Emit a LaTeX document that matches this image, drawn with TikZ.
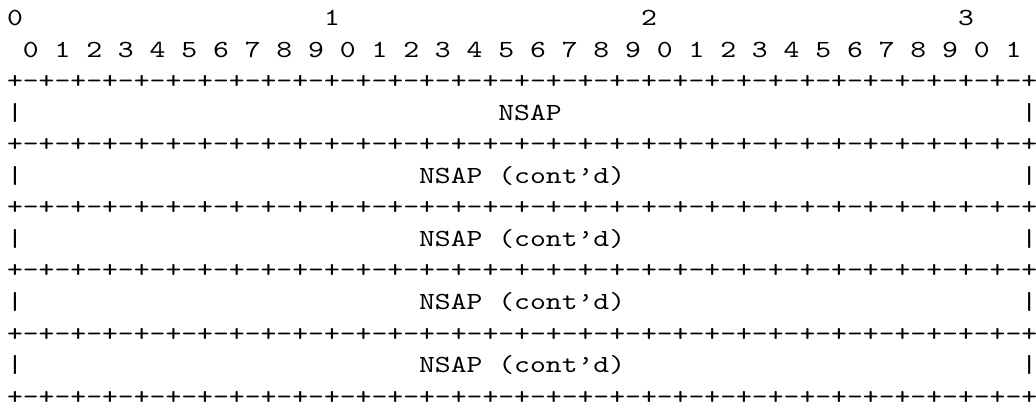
\documentclass[tikz,border=0pt]{standalone}
\usepackage{fontspec}
\setmonofont{lmmono10-regular.otf}[FakeStretch=1.2273]
\tikzset{>=latex}

\begin{document}
\begin{tikzpicture}[x=0.5pt,y=0.5pt,
    txt/.style={inner sep=0pt, anchor=base west, font=\ttfamily\fontsize{12.3}{16}\selectfont}]
      % page size of the reference, in px
      \useasboundingbox (0,0) rectangle (1036,-407);
      % column c sits at 6.6 + c*15.85, row r has its baseline at 25.9 + (r-1)*31.51
      \foreach \c/\t in {0/0, 20/1, 40/2, 60/3}
        \node[txt] (top\t) at ({6.6+\c*15.85},-25.9) {\t};
      \foreach \k [evaluate=\k as \d using {int(mod(\k,10))}] in {0,...,31}
        \node[txt] (bit\k) at ({6.6+(2*\k+1)*15.85},-57.4) {\d};
      \foreach \r in {3,5,...,13}
        \node[txt] (b\r) at (6.6,{-25.9-(\r-1)*31.51}) {+-+-+-+-+-+-+-+-+-+-+-+-+-+-+-+-+-+-+-+-+-+-+-+-+-+-+-+-+-+-+-+-+};
      \foreach \r in {4,6,...,12} {
        \node[txt] (l\r) at (6.6,{-25.9-(\r-1)*31.51}) {|};
        \node[txt] (r\r) at ({6.6+64*15.85},{-25.9-(\r-1)*31.51}) {|};
      }
      \node[txt] (f4) at ({6.6+31*15.85},-120.4) {NSAP};
      \foreach \r in {6,8,10,12}
        \node[txt] (f\r) at ({6.6+26*15.85},{-25.9-(\r-1)*31.51}) {NSAP (cont’d)};
\end{tikzpicture}
\end{document}
